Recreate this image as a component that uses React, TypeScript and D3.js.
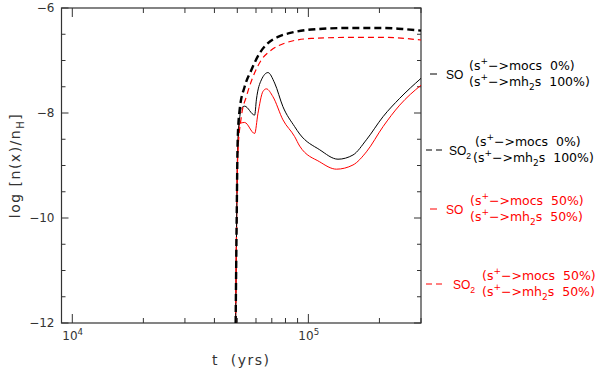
import { useRef, useEffect } from 'react';
import * as d3 from 'd3';

// [t (yrs), log n(x)/nH]
const so0 = [
  [49200, -12], [49700, -10], [50200, -8.6], [51150, -8.1], [52010, -7.91], [53700, -7.87],
  [59230, -8.04], [60220, -7.75], [63220, -7.37], [67430, -7.23], [71970, -7.43], [78040, -7.88],
  [87480, -8.26], [91870, -8.4], [111660, -8.7], [133530, -8.88], [154520, -8.8], [176160, -8.51],
  [207150, -8.07], [243750, -7.72], [300000, -7.34],
];
const so2_0 = [
  [49200, -12], [49700, -10], [50200, -8.5], [51150, -7.94], [53700, -7.5], [57350, -7.18],
  [62180, -6.86], [67430, -6.67], [74320, -6.55], [84720, -6.47], [102970, -6.41], [149620, -6.38],
  [207150, -6.38], [250000, -6.4], [300000, -6.43],
];
const so50 = [
  [49200, -12], [49700, -10], [50200, -8.8], [51150, -8.2], [53700, -8.18], [59230, -8.39],
  [61150, -8.01], [64210, -7.59], [66380, -7.54], [70790, -7.69], [78040, -8.13], [87480, -8.45],
  [91870, -8.63], [111660, -8.93], [131450, -9.07], [154520, -8.99], [176160, -8.74],
  [207150, -8.26], [243750, -7.85], [300000, -7.47],
];
const so2_50 = [
  [49200, -12], [49700, -10], [50200, -8.8], [52010, -8.07], [54600, -7.69], [58260, -7.31],
  [63220, -6.99], [69690, -6.8], [79350, -6.67], [102970, -6.58], [149620, -6.56], [207150, -6.56],
  [300000, -6.61],
];

const xDomain = [9000, 300000];
const yDomain = [-12, -6];
const yMajor = [-6, -8, -10, -12];
const xMajor = [10000, 100000];
const xMajorExp = ['4', '5'];

const legendRows = [
  { color: '#000', dashed: false, sp: 'SO', sub: '', mocs: '0%', mh2s: '100%' },
  { color: '#000', dashed: true, sp: 'SO', sub: '2', mocs: '0%', mh2s: '100%' },
  { color: '#f00', dashed: false, sp: 'SO', sub: '', mocs: '50%', mh2s: '50%' },
  { color: '#f00', dashed: true, sp: 'SO', sub: '2', mocs: '50%', mh2s: '50%' },
];

const FONT = '"DejaVu Sans", sans-serif';
const NARROW = '"Liberation Sans", Arial, sans-serif';

export default function App() {
  const ref = useRef(null);

  useEffect(() => {
    const svg = d3.select(ref.current);
    svg.selectAll('*').remove();
    const W = 600, H = 370;
    const m = { top: 8, right: 179, bottom: 47, left: 61.5 };
    const iw = W - m.left - m.right;
    const ih = H - m.top - m.bottom;
    const ac = '#333';

    const x = d3.scaleLog().domain(xDomain).range([0, iw]);
    const y = d3.scaleLinear().domain(yDomain).range([ih, 0]);
    const g = svg.append('g').attr('transform', `translate(${m.left},${m.top})`);

    // helper for text with super/subscripts
    const rich = (sel, px, py, parts, size, fill, family = FONT) => {
      const t = sel.append('text').attr('x', px).attr('y', py).attr('fill', fill)
        .attr('font-family', family).attr('font-size', size).style('white-space', 'pre');
      let cur = 0;
      parts.forEach(([s, k]) => {
        const target = k === 'sup' ? -size * 0.45 : k === 'sub' ? size * 0.3 : 0;
        const ts = t.append('tspan').text(s).attr('dy', target - cur);
        if (k) ts.attr('font-size', size * 0.72);
        cur = target;
      });
      return t;
    };

    // frame
    g.append('rect').attr('width', iw).attr('height', ih).attr('fill', 'none')
      .attr('stroke', ac).attr('stroke-width', 1.2);

    // y ticks (both sides)
    const yTicks = d3.range(-12, -5.99, 0.5);
    yTicks.forEach(v => {
      const len = v % 2 === 0 ? 7 : 4;
      g.append('line').attr('x1', 0).attr('x2', len).attr('y1', y(v)).attr('y2', y(v)).attr('stroke', ac);
      g.append('line').attr('x1', iw).attr('x2', iw - len).attr('y1', y(v)).attr('y2', y(v)).attr('stroke', ac);
    });
    yMajor.forEach(v => {
      g.append('text').attr('x', -7).attr('y', y(v)).attr('dy', '0.36em').attr('text-anchor', 'end')
        .attr('font-family', FONT).attr('font-size', 12).attr('fill', ac).text('\u2212' + Math.abs(v));
    });

    // x ticks (bottom and top)
    const xTicks = [];
    for (let d = 10000; d <= 100000; d *= 10) for (let k = 1; k < 10; k++) xTicks.push(d * k);
    xTicks.filter(t => t >= xDomain[0] && t <= xDomain[1]).forEach(t => {
      const len = xMajor.includes(t) ? 9 : 5;
      g.append('line').attr('x1', x(t)).attr('x2', x(t)).attr('y1', ih).attr('y2', ih - len).attr('stroke', ac);
      g.append('line').attr('x1', x(t)).attr('x2', x(t)).attr('y1', 0).attr('y2', len).attr('stroke', ac);
    });
    xMajor.forEach((t, i) => {
      rich(g, x(t) - 10, ih + 17, [['10', null], [xMajorExp[i], 'sup']], 12, ac);
    });

    // axis titles
    g.append('text').attr('x', iw / 2).attr('y', ih + 42).attr('text-anchor', 'middle')
      .attr('font-family', FONT).attr('font-size', 14).attr('fill', ac)
      .style('letter-spacing', '1.5px').style('white-space', 'pre').text('t  (yrs)');
    const yl = g.append('text').attr('transform', `translate(-42,${ih / 2}) rotate(-90)`)
      .attr('text-anchor', 'middle').attr('font-family', FONT).attr('font-size', 14).attr('fill', ac)
      .style('letter-spacing', '1.5px');
    yl.append('tspan').text('log [n(x)/n');
    yl.append('tspan').text('H').attr('font-size', 10).attr('dy', 4);
    yl.append('tspan').text(']').attr('dy', -4);

    // curves
    const line = d3.line().x(d => x(d[0])).y(d => y(d[1])).curve(d3.curveMonotoneX);
    const cg = g.append('g');
    cg.append('path').datum(so50).attr('d', line).attr('fill', 'none').attr('stroke', '#f00').attr('stroke-width', 1);
    cg.append('path').datum(so0).attr('d', line).attr('fill', 'none').attr('stroke', '#000').attr('stroke-width', 1);
    cg.append('path').datum(so2_50).attr('d', line).attr('fill', 'none').attr('stroke', '#f00')
      .attr('stroke-width', 1.2).attr('stroke-dasharray', '6,4');
    cg.append('path').datum(so2_0).attr('d', line).attr('fill', 'none').attr('stroke', '#000')
      .attr('stroke-width', 2.4).attr('stroke-dasharray', '7,4');

    // legend, drawn to the right of the frame
    const lg = svg.append('g');
    const rowY = [74, 150, 209, 284];
    const spX = [446, 449, 446, 453];
    const line1X = [469, 475, 470, 482];
    const line2X = [469, 473, 470, 482];
    legendRows.forEach((r, i) => {
      const cy = rowY[i];
      if (r.dashed) {
        lg.append('line').attr('x1', 426).attr('x2', 444).attr('y1', cy).attr('y2', cy)
          .attr('stroke', r.color).attr('stroke-width', 1).attr('stroke-dasharray', '6,4');
      } else {
        lg.append('line').attr('x1', 430).attr('x2', 437).attr('y1', cy).attr('y2', cy)
          .attr('stroke', r.color).attr('stroke-width', 1);
      }
      const parts = [[r.sp, null]];
      if (r.sub) parts.push([r.sub, 'sub']);
      rich(lg, spX[i], cy + 5, parts, 12, r.color, NARROW);
      rich(lg, line1X[i], cy - 4, [['(s', null], ['+', 'sup'], ['\u2212>mocs  ' + r.mocs + ')', null]], 12.5, r.color);
      rich(lg, line2X[i], cy + 12, [['(s', null], ['+', 'sup'], ['\u2212>mh', null], ['2', 'sub'], ['s  ' + r.mh2s + ')', null]], 12.5, r.color);
    });
  }, []);

  return (
    <svg ref={ref} width={600} height={370}
      style={{ position: 'absolute', left: 0, top: 0, background: '#fff' }} />
  );
}
